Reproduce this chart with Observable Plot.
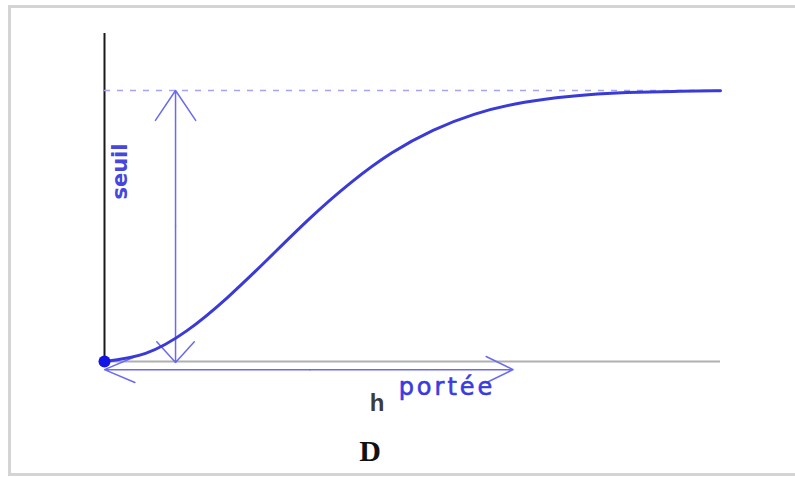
<!DOCTYPE html>
<html>
<head>
<meta charset="utf-8">
<script src="https://cdn.jsdelivr.net/npm/d3@7"></script>
<script src="https://cdn.jsdelivr.net/npm/@observablehq/plot@0.6"></script>
<style>
  html, body { margin: 0; padding: 0; background: #fff; }
  #wrap { position: relative; width: 795px; height: 477px; overflow: hidden; }
  #border { position: absolute; left: 8px; top: 5px; width: 787px; height: 471px;
            border: 3px solid #d4d4d4; border-right: none; box-sizing: border-box; }
  #chart { position: absolute; left: 0; top: 0; }
</style>
</head>
<body>
<div id="wrap"><div id="border"></div><div id="chart"></div></div>
<script>
// Gaussian variogram: lag distance h and semivariance gamma(h)
const lags = [0, 0.1, 0.2, 0.3, 0.4, 0.5, 0.6, 0.7, 0.8, 0.9, 1.0, 1.1, 1.2, 1.3, 1.4, 1.5];
const gammas = [0, 0.03, 0.113, 0.237, 0.381, 0.528, 0.66, 0.77, 0.853, 0.912, 0.95, 0.973, 0.987, 0.994, 0.997, 0.999];
const sill = 1;        // seuil
const portee = 1;      // portée (range)
const hMax = 1.5;
const seuilArrowAt = 0.173;
const porteeArrowAt = -0.03;
const labels = ["seuil", "h", "portée", "D"];

const curveData = lags.map((h, i) => ({h, g: gammas[i]}));

const blue = "#3a3ad8";
const arrowBlue = "#6a6af0";

const plot = Plot.plot({
  width: 795,
  height: 477,
  x: {domain: [0, hMax], range: [104, 720], axis: null},
  y: {domain: [0, sill], range: [361, 90], axis: null},
  marks: [
    // baseline and vertical axis
    Plot.ruleY([0], {x1: 0, x2: hMax, stroke: "#b0b0b0", strokeWidth: 2}),
    Plot.ruleX([0], {y1: -0.004, y2: 1.21, stroke: "#1a1a1a", strokeWidth: 2}),
    // sill level
    Plot.ruleY([sill], {x1: 0, x2: hMax, stroke: "#a4a4f2", strokeWidth: 1.5, strokeDasharray: "6,7"}),
    // seuil double arrow
    Plot.arrow([{}], {x1: seuilArrowAt, x2: seuilArrowAt, y1: sill / 2, y2: sill,
      stroke: arrowBlue, strokeWidth: 1.5, headLength: 36, headAngle: 68}),
    Plot.arrow([{}], {x1: seuilArrowAt, x2: seuilArrowAt, y1: sill / 2, y2: -0.004,
      stroke: arrowBlue, strokeWidth: 1.5, headLength: 28, headAngle: 84}),
    // portée double arrow
    Plot.arrow([{}], {x1: portee / 2, x2: 0, y1: porteeArrowAt, y2: porteeArrowAt,
      stroke: arrowBlue, strokeWidth: 1.5, headLength: 33, headAngle: 46}),
    Plot.arrow([{}], {x1: portee / 2, x2: portee * 0.995, y1: porteeArrowAt, y2: porteeArrowAt,
      stroke: arrowBlue, strokeWidth: 1.5, headLength: 30, headAngle: 52}),
    // variogram model
    Plot.line(curveData, {x: "h", y: "g", curve: "natural", stroke: blue, strokeWidth: 3}),
    Plot.dot([{h: 0, g: 0}], {x: "h", y: "g", r: 6, fill: "#1414e6", stroke: "none"}),
    // labels
    Plot.text([labels[0]], {x: 0.039, y: 0.701, rotate: -90, fontSize: 21, fontWeight: "bold",
      fontFamily: "DejaVu Sans", fill: "#4646e0", text: d => d}),
    Plot.text([labels[1]], {x: 0.664, y: -0.155, fontSize: 24, fontWeight: "bold",
      fontFamily: "Liberation Sans", fill: "#3c3c3c", text: d => d}),
    Plot.text([labels[2]], {x: 0.834, y: -0.096, fontSize: 24,
      fontFamily: "DejaVu Sans", fill: "#3a3ae0", stroke: "#3a3ae0", strokeWidth: 0.6, text: d => d}),
    Plot.text([labels[3]], {x: 0.647, y: -0.33, fontSize: 30, fontWeight: "bold",
      fontFamily: "Liberation Serif", fill: "#111", text: d => d})
  ]
});

// wider letter spacing on the blue axis label
d3.select(plot).selectAll("text").each(function () {
  if (this.textContent === labels[2]) this.style.letterSpacing = "3px";
});

document.getElementById("chart").appendChild(plot);
</script>
</body>
</html>
